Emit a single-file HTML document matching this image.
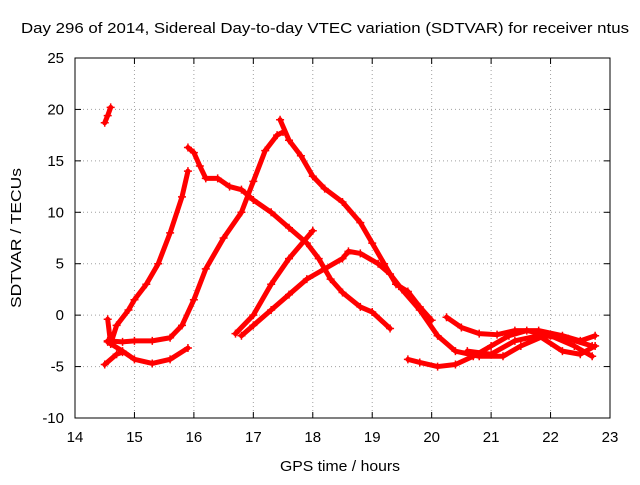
<!DOCTYPE html>
<html><head><meta charset="utf-8"><style>
body{margin:0;background:#fff}
svg text{font-family:"Liberation Sans",sans-serif;font-size:15px;fill:#000}
</style></head><body>
<svg id="chart" width="640" height="480">
<rect width="640" height="480" fill="#fff"/>
<g id="grid"></g><g id="ticks"></g><g id="series"></g>
<rect x="75" y="58" width="535" height="360" fill="none" stroke="#000" stroke-width="1"/>
<text x="325" y="33" text-anchor="middle" textLength="608" lengthAdjust="spacingAndGlyphs">Day 296 of 2014, Sidereal Day-to-day VTEC variation (SDTVAR) for receiver ntus</text>
<text x="340" y="471" text-anchor="middle" textLength="120" lengthAdjust="spacingAndGlyphs">GPS time / hours</text>
<text transform="translate(21,238) rotate(-90)" text-anchor="middle" textLength="140" lengthAdjust="spacingAndGlyphs">SDTVAR / TECUs</text>
</svg>
<script>
const xTicks=[14,15,16,17,18,19,20,21,22,23];
const yTicks=[-10,-5,0,5,10,15,20,25];
const trackA=[[14.5,18.7],[14.55,19.4],[14.6,20.2]];
const trackB=[[14.55,-0.4],[14.6,-2.8],[14.7,-1],[14.9,0.5],[15.0,1.5],[15.2,3],[15.4,5],[15.6,8],[15.8,11.5],[15.9,14]];
const trackC=[[15.9,16.3],[16.0,15.8],[16.1,14.5],[16.2,13.3],[16.4,13.3],[16.6,12.5],[16.8,12.2],[17.0,11.2],[17.3,10],[17.6,8.5],[17.9,7],[18.1,5.5],[18.3,3.5],[18.5,2.2],[18.8,0.8],[19.0,0.3],[19.3,-1.3]];
const trackD=[[14.55,-2.5],[14.8,-2.6],[15.0,-2.5],[15.3,-2.5],[15.6,-2.2],[15.8,-1],[16.0,1.5],[16.2,4.5],[16.5,7.5],[16.8,10],[17.0,13],[17.2,16],[17.4,17.5],[17.5,17.8]];
const trackE=[[14.5,-4.8],[14.7,-3.8],[14.8,-3.6]];
const trackE2=[[14.55,-2.6],[14.8,-3.5],[15.0,-4.3],[15.3,-4.7],[15.6,-4.3],[15.9,-3.2]];
const trackF=[[17.45,19],[17.6,17],[17.8,15.5],[18.0,13.5],[18.2,12.3],[18.5,11],[18.8,9],[19.0,7],[19.2,5],[19.4,3],[19.6,2.3],[19.8,0.8],[20.0,-0.5]];
const trackG=[[16.8,-2],[17.0,-1],[17.3,0.5],[17.6,2],[17.9,3.5],[18.2,4.5],[18.5,5.5],[18.6,6.2],[18.8,6],[19.1,5],[19.3,4],[19.5,2.5],[19.8,0.5],[20.1,-2],[20.4,-3.5],[20.8,-4],[21.2,-4],[21.5,-3],[21.9,-2],[22.3,-2.3],[22.7,-3]];
const trackH=[[16.7,-1.8],[17.0,0],[17.3,3],[17.6,5.5],[18.0,8.2]];
const trackJ=[[19.6,-4.3],[19.8,-4.6],[20.1,-5],[20.4,-4.8],[20.7,-4],[21.0,-3],[21.3,-2],[21.6,-1.5],[22.0,-2],[22.4,-3],[22.7,-4]];
const trackK=[[20.25,-0.2],[20.5,-1.2],[20.8,-1.8],[21.1,-1.9],[21.4,-1.5],[21.8,-1.5],[22.2,-2],[22.5,-2.5],[22.75,-2]];
const trackL=[[20.6,-3.5],[21.0,-3.8],[21.4,-2.5],[21.8,-2],[22.2,-3.5],[22.5,-3.8],[22.75,-3]];
const tracks=[trackA,trackB,trackC,trackD,trackE,trackE2,trackF,trackG,trackH,trackJ,trackK,trackL];
const X=v=>75+(v-14)*535/9, Y=v=>418-(v+10)*360/35;
const NS="http://www.w3.org/2000/svg";
const mk=(t,a,p)=>{const e=document.createElementNS(NS,t);for(const k in a)e.setAttribute(k,a[k]);p.appendChild(e);return e;};
const grid=document.getElementById('grid'),ticks=document.getElementById('ticks'),ser=document.getElementById('series');
xTicks.forEach(v=>{
 const g=mk('line',{x1:X(v),x2:X(v),y1:58,y2:418,stroke:'#a0a0a0','stroke-dasharray':'1,3'},grid);
 
 
 mk('line',{x1:X(v),x2:X(v),y1:418,y2:412,stroke:'#000'},ticks);
 mk('line',{x1:X(v),x2:X(v),y1:58,y2:64,stroke:'#000'},ticks);
 const t=mk('text',{x:X(v),y:442,'text-anchor':'middle'},ticks);t.textContent=v;
 
 
});
yTicks.forEach(v=>{
 const g=mk('line',{x1:75,x2:610,y1:Y(v),y2:Y(v),stroke:'#a0a0a0','stroke-dasharray':'1,3'},grid);
 
 
 mk('line',{x1:75,x2:81,y1:Y(v),y2:Y(v),stroke:'#000'},ticks);
 mk('line',{x1:610,x2:604,y1:Y(v),y2:Y(v),stroke:'#000'},ticks);
 const t=mk('text',{x:64,y:Y(v)+5,'text-anchor':'end'},ticks);t.textContent=v;
 
 
});
tracks.forEach((tr,i)=>{
 const pl=mk('polyline',{points:tr.map(p=>X(p[0])+','+Y(p[1])).join(' '),fill:'none',stroke:'#f00','stroke-width':5,'stroke-linejoin':'round','stroke-linecap':'round'},ser);
 
 
 tr.forEach(p=>{
  const x=X(p[0]),y=Y(p[1]);
  const m=mk('path',{d:`M${x-4},${y}H${x+4}M${x},${y-4}V${y+4}`,stroke:'#f00','stroke-width':1.5},ser);
  
  
 });
});
</script>
</body></html>
